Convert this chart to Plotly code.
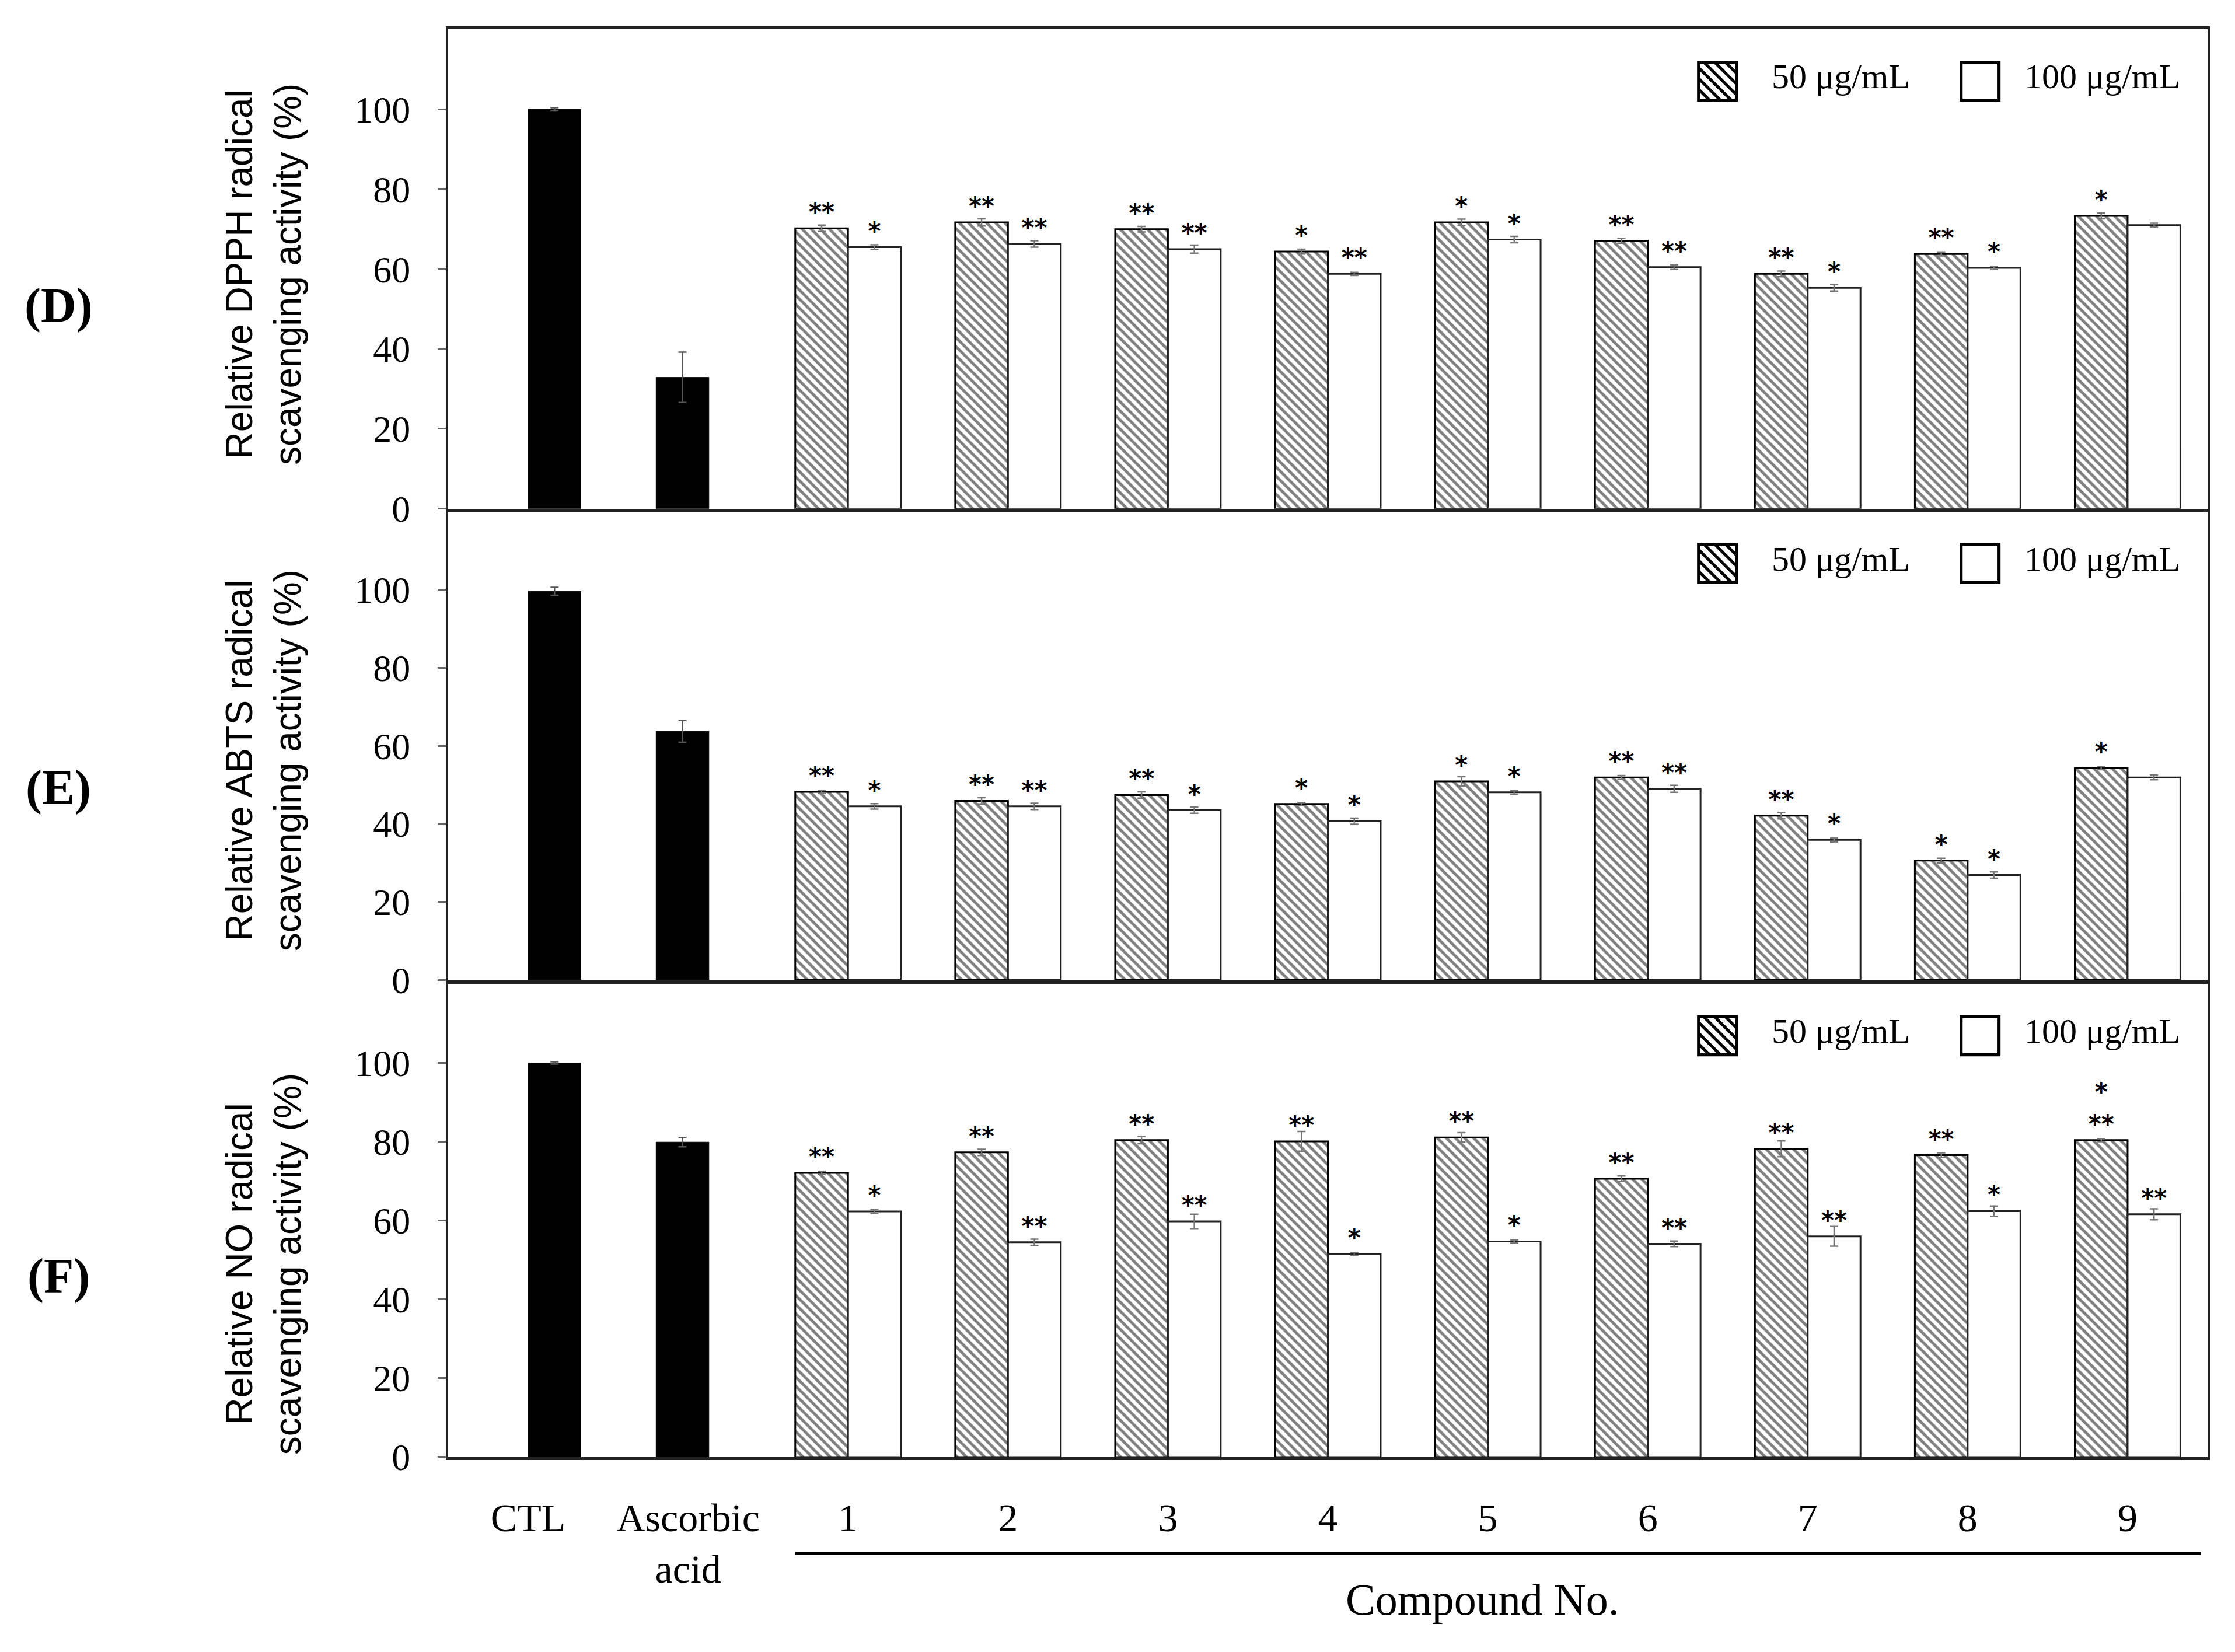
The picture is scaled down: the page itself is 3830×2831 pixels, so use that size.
import plotly.graph_objects as go
from plotly.subplots import make_subplots

W, H = 3830, 2831

# categories
categories = ["CTL", "Ascorbic acid", "1", "2", "3", "4", "5", "6", "7", "8", "9"]
tick_text = ["CTL", "Ascorbic<br>acid", "1", "2", "3", "4", "5", "6", "7", "8", "9"]
controls = ["CTL", "Ascorbic acid"]
compounds = ["1", "2", "3", "4", "5", "6", "7", "8", "9"]

# (D) DPPH
dpph_ctrl = [100.0, 32.9]
dpph_ctrl_err = [0.4, 6.3]
dpph_50 = [70.2, 71.7, 70.0, 64.4, 71.7, 67.1, 58.8, 63.8, 73.3]
dpph_50_err = [0.8, 0.9, 0.7, 0.6, 0.8, 0.6, 0.7, 0.5, 0.7]
dpph_100 = [65.5, 66.3, 65.0, 58.8, 67.4, 60.5, 55.3, 60.3, 71.0]
dpph_100_err = [0.6, 0.8, 1.0, 0.4, 0.8, 0.6, 0.8, 0.4, 0.5]
dpph_sig_50 = ["**", "**", "**", "*", "*", "**", "**", "**", "*"]
dpph_sig_100 = ["*", "**", "**", "**", "*", "**", "*", "*", ""]

# (E) ABTS
abts_ctrl = [99.6, 63.7]
abts_ctrl_err = [1.0, 2.8]
abts_50 = [48.2, 45.9, 47.4, 45.1, 50.9, 51.9, 42.1, 30.6, 54.3]
abts_50_err = [0.4, 0.8, 0.8, 0.4, 1.2, 0.5, 0.8, 0.6, 0.4]
abts_100 = [44.5, 44.5, 43.5, 40.7, 48.1, 49.0, 35.9, 26.9, 51.9]
abts_100_err = [0.7, 0.8, 0.8, 0.8, 0.5, 0.9, 0.5, 0.8, 0.6]
abts_sig_50 = ["**", "**", "**", "*", "*", "**", "**", "*", "*"]
abts_sig_100 = ["*", "**", "*", "*", "*", "**", "*", "*", ""]

# (F) NO
no_ctrl = [100.0, 79.9]
no_ctrl_err = [0.3, 1.2]
no_50 = [72.1, 77.3, 80.4, 80.1, 81.1, 70.6, 78.2, 76.6, 80.4]
no_50_err = [0.4, 0.8, 0.9, 2.5, 1.2, 0.7, 2.0, 0.6, 0.4]
no_100 = [62.3, 54.5, 59.8, 51.5, 54.7, 54.1, 56.0, 62.4, 61.6]
no_100_err = [0.5, 0.8, 1.8, 0.4, 0.4, 0.7, 2.5, 1.3, 1.4]
no_sig_50 = ["**", "**", "**", "**", "**", "**", "**", "**", "*<br>**"]
no_sig_100 = ["*", "**", "**", "*", "*", "**", "**", "*", "**"]

panels = [
    ("(D)", "Relative DPPH radical<br>scavenging activity (%)",
     dpph_ctrl, dpph_ctrl_err, dpph_50, dpph_50_err, dpph_100, dpph_100_err, dpph_sig_50, dpph_sig_100),
    ("(E)", "Relative ABTS radical<br>scavenging activity (%)",
     abts_ctrl, abts_ctrl_err, abts_50, abts_50_err, abts_100, abts_100_err, abts_sig_50, abts_sig_100),
    ("(F)", "Relative NO radical<br>scavenging activity (%)",
     no_ctrl, no_ctrl_err, no_50, no_50_err, no_100, no_100_err, no_sig_50, no_sig_100),
]

# pixel layout of the three panels (top, bottom of plot area)
panel_px = [(43, 875), (880, 1693), (1700, 2521)]
title_cy = [468, 1312, 2186]
label_cy = [523, 1359, 2207]
x_left, x_right = 760, 3775


def px(x=None, y=None):
    if x is not None:
        return x / W
    return 1 - y / H


serif = "Liberation Serif"
sans = "Liberation Sans"
star_font = dict(family="DejaVu Sans", size=42, color="black", weight="bold")

fig = make_subplots(rows=3, cols=1, shared_xaxes=True, vertical_spacing=0.01)

for i, (lab, ytitle, c, ce, v50, e50, v100, e100, s50, s100) in enumerate(panels):
    row = i + 1
    fig.add_trace(go.Bar(
        x=controls, y=c, width=0.33, offset=[0.0, -0.2],
        marker=dict(color="black", line=dict(color="black", width=1)),
        error_y=dict(type="data", array=ce, color="#555", thickness=2.5, width=7),
        showlegend=False), row=row, col=1)
    fig.add_trace(go.Bar(
        x=compounds, y=v50, width=0.33, offset=-0.33,
        marker=dict(color="white",
                    pattern=dict(shape="\\", fgcolor="black", bgcolor="white", size=11, solidity=0.45),
                    line=dict(color="black", width=3)),
        error_y=dict(type="data", array=e50, color="#777", thickness=2.5, width=7),
        text=s50, textposition="outside", textangle=0, constraintext="none", cliponaxis=False,
        textfont=star_font,
        showlegend=False), row=row, col=1)
    fig.add_trace(go.Bar(
        x=compounds, y=v100, width=0.33, offset=0.0,
        marker=dict(color="white", line=dict(color="#222", width=3)),
        error_y=dict(type="data", array=e100, color="#777", thickness=2.5, width=7),
        text=s100, textposition="outside", textangle=0, constraintext="none", cliponaxis=False,
        textfont=star_font,
        showlegend=False), row=row, col=1)

    top, bot = panel_px[i]
    yname = "yaxis" if i == 0 else f"yaxis{row}"
    xname = "xaxis" if i == 0 else f"xaxis{row}"
    fig.update_layout(**{
        yname: dict(domain=[px(y=bot), px(y=top)], range=[0, 120],
                    tickvals=[0, 20, 40, 60, 80, 100], ticks="outside", ticklen=14,
                    tickwidth=3, tickcolor="#666", showgrid=False, zeroline=False,
                    showline=True, mirror=True, linecolor="#222", linewidth=4,
                    tickfont=dict(family=serif, size=64, color="black"),
                    ticklabelstandoff=34),
        xname: dict(domain=[px(x=x_left), px(x=x_right)], range=[-0.5, 10.5],
                    categoryorder="array", categoryarray=categories,
                    tickmode="array", tickvals=categories, ticktext=tick_text,
                    ticks="", showgrid=False, zeroline=False,
                    showline=True, mirror=True, linecolor="#222", linewidth=5,
                    tickfont=dict(family=serif, size=68, color="black"),
                    ticklabelstandoff=40),
    })

    # panel label
    fig.add_annotation(text=f"<b>{lab}</b>", xref="paper", yref="paper",
                       x=px(x=92), y=px(y=label_cy[i]), showarrow=False,
                       xanchor="center", yanchor="middle",
                       font=dict(family=serif, size=84, color="black"))
    # y title
    fig.add_annotation(text=ytitle, xref="paper", yref="paper", textangle=-90,
                       x=px(x=443), y=px(y=title_cy[i]), showarrow=False,
                       xanchor="center", yanchor="middle",
                       font=dict(family=sans, size=64, color="black"))
    # legend
    ly = px(y=top + 82)
    fig.add_annotation(text="▧", xref="paper", yref="paper", x=px(x=2935), y=ly,
                       showarrow=False, xanchor="center", yanchor="middle",
                       font=dict(family="DejaVu Sans", size=92, color="black"))
    fig.add_annotation(text="50 μg/mL", xref="paper", yref="paper", x=px(x=3026), y=ly,
                       showarrow=False, xanchor="left", yanchor="middle",
                       font=dict(family=serif, size=60, color="black"))
    fig.add_annotation(text="□", xref="paper", yref="paper", x=px(x=3385), y=ly,
                       showarrow=False, xanchor="center", yanchor="middle",
                       font=dict(family="DejaVu Sans", size=92, color="black"))
    fig.add_annotation(text="100 μg/mL", xref="paper", yref="paper", x=px(x=3459), y=ly,
                       showarrow=False, xanchor="left", yanchor="middle",
                       font=dict(family=serif, size=60, color="black"))

fig.update_xaxes(showticklabels=False, row=1, col=1)
fig.update_xaxes(showticklabels=False, row=2, col=1)

# compound bracket + label
fig.add_shape(type="line", xref="paper", yref="paper",
              x0=px(x=1355), x1=px(x=3764), y0=px(y=2688), y1=px(y=2688),
              line=dict(color="black", width=5))
fig.add_annotation(text="Compound No.", xref="paper", yref="paper",
                   x=px(x=2532), y=px(y=2768), showarrow=False,
                   xanchor="center", yanchor="middle",
                   font=dict(family=serif, size=76, color="black"))

fig.update_layout(width=W, height=H, barmode="overlay",
                  margin=dict(l=0, r=0, t=0, b=0),
                  plot_bgcolor="white", paper_bgcolor="white",
                  showlegend=False)

fig.write_html("out.html")
